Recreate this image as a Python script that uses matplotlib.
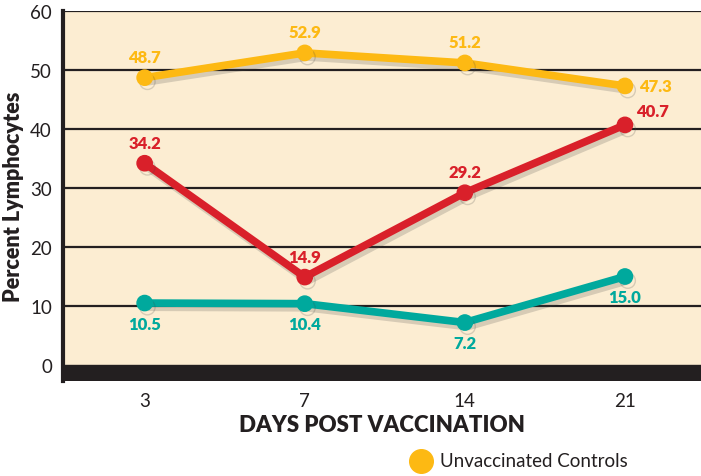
import matplotlib.pyplot as plt
import matplotlib.patheffects as pe
from matplotlib.lines import Line2D

# data
days = ["3", "7", "14", "21"]
unvaccinated = [48.7, 52.9, 51.2, 47.3]
red_series = [34.2, 14.9, 29.2, 40.7]
teal_series = [10.5, 10.4, 7.2, 15.0]

GOLD = "#FDB913"
RED = "#D9202A"
TEAL = "#00A99D"
DARK = "#231F20"
BG = "#FCEDD2"

plt.rcParams["font.family"] = ["Lato", "DejaVu Sans"]

fig = plt.figure(figsize=(7.01, 4.77), dpi=100)
ax = fig.add_axes([63 / 701, 95 / 477, 1 - 63 / 701, 370 / 477])
ax.set_facecolor(BG)

x = range(len(days))
shadow = [pe.SimpleLineShadow(offset=(2, -3), alpha=0.2, shadow_color="#444444"), pe.Normal()]

for y in [10, 20, 30, 40, 50, 60]:
    ax.axhline(y, color=DARK, lw=1.6, zorder=1)
ax.axhspan(-2.71, 0, color=DARK, zorder=1)

for vals, col in [(unvaccinated, GOLD), (red_series, RED), (teal_series, TEAL)]:
    ax.plot(x, vals, color=col, lw=5.5, marker="o", ms=11, solid_capstyle="round",
            zorder=3, path_effects=shadow)

lab = dict(fontsize=12, fontweight="heavy", ha="center")
# gold labels
for i, v in enumerate(unvaccinated[:3]):
    ax.annotate(f"{v:.1f}", (i, v), xytext=(0, 9), textcoords="offset points", color=GOLD, va="bottom", **lab)
ax.annotate(f"{unvaccinated[3]:.1f}", (3, unvaccinated[3]), xytext=(10, 0), textcoords="offset points",
            color=GOLD, va="center", fontsize=12, fontweight="heavy", ha="left")
# red labels
for i, v in enumerate(red_series[:3]):
    ax.annotate(f"{v:.1f}", (i, v), xytext=(0, 9), textcoords="offset points", color=RED, va="bottom", **lab)
ax.annotate(f"{red_series[3]:.1f}", (3, red_series[3]), xytext=(8, 4), textcoords="offset points",
            color=RED, va="bottom", fontsize=12, fontweight="heavy", ha="left")
# teal labels
for i, v in enumerate(teal_series):
    ax.annotate(f"{v:.1f}", (i, v), xytext=(0, -9), textcoords="offset points", color=TEAL, va="top", **lab)

ax.set_xlim(-0.51, 3.475)
ax.set_ylim(-2.71, 60)
ax.set_yticks([0, 10, 20, 30, 40, 50, 60])
ax.set_xticks(list(x))
ax.set_xticklabels(days)
ax.tick_params(length=0, labelsize=13.5, colors=DARK, pad=8)
ax.tick_params(axis="x", pad=8)

for s in ["top", "right", "bottom"]:
    ax.spines[s].set_visible(False)
ax.spines["left"].set_color(DARK)
ax.spines["left"].set_linewidth(3)

ax.set_ylabel("Percent Lymphocytes", fontsize=15.5, fontweight="heavy", color=DARK, labelpad=4)
fig.text(0.545, 0.107, "DAYS POST VACCINATION", fontsize=16, fontweight="heavy", color=DARK,
         ha="center", va="center")

# legend (partially visible in the reference)
fig.add_artist(Line2D([421 / 701], [15 / 477], marker="o", ms=17, color=GOLD, lw=0,
                      transform=fig.transFigure))
fig.text(440 / 701, 15 / 477, "Unvaccinated Controls", fontsize=13.5, color=DARK, va="center", ha="left")

fig.savefig("out.png", dpi=100)
